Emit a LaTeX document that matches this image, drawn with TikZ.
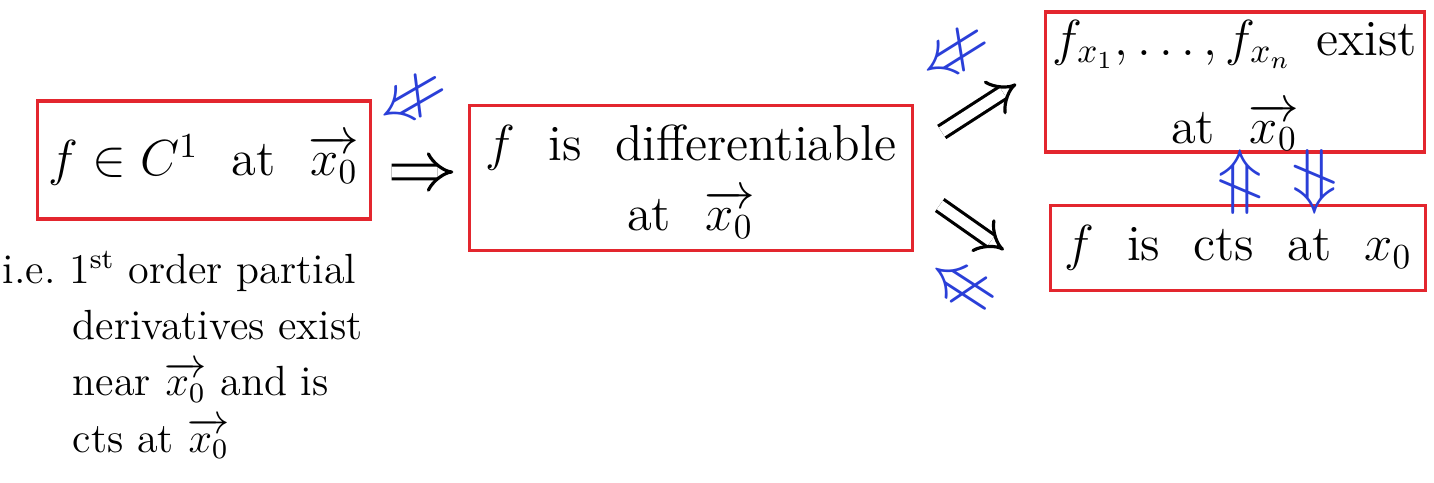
\documentclass[tikz,border=0pt]{standalone}
\usepackage{amsmath,amssymb}
\usepackage{tikz}
\usetikzlibrary{positioning,arrows.meta}
\definecolor{penred}{HTML}{E3262E}
\definecolor{penblue}{HTML}{2A3FD8}
\newcommand{\vxo}{\smash{\overrightarrow{x_0}}}
\tikzset{
  claim/.style={draw=penred,line width=0.9pt,font=\Large,align=center,inner sep=2pt},
  implies/.style={double,double distance=3pt,line width=0.9pt,-{Implies}},
  notimp/.style={text=penblue,font=\LARGE,inner sep=0pt,scale=1.2},
}
\begin{document}
\begin{tikzpicture}[x=0.01cm,y=-0.01cm]
        \useasboundingbox (0,0) rectangle (1434,483);
        % the four statements
        \node[claim,minimum width=3.32cm,minimum height=1.18cm] (cOne) at (204,160){$f\in C^1$ \ at \ $\vxo$};
        \node[claim,minimum width=4.42cm,minimum height=1.45cm] (diff) at (691,178){$f$ \ is \ differentiable\\[2pt] at \ $\vxo$};
        \node[claim,minimum width=3.7cm,minimum height=1.4cm] (part) at (1235,82){$f_{x_1},\ldots,f_{x_n}$ \,exist\\[7pt] at \ $\vxo$};
        \node[claim,minimum width=3.75cm,minimum height=0.85cm] (cts) at (1238,248){$f$ \ is \ cts \ at \ $x_0$};
        \node[font=\large,align=left,anchor=north west,inner sep=0pt] (note) at (2,250){i.e.\ 1\textsuperscript{st} order partial\\[2pt]
          \hspace*{0.7cm}derivatives exist\\[2pt]
          \hspace*{0.7cm}near $\vxo$ and is\\[2pt]
          \hspace*{0.7cm}cts at $\vxo$};
        % implications
        \draw[implies] ([xshift=0.2cm,yshift=-0.12cm]cOne.east)--([xshift=-0.15cm,yshift=0.06cm]diff.west);
        \draw[implies] ([xshift=0.28cm,yshift=0.46cm]diff.east)--([xshift=-0.28cm,yshift=-0.02cm]part.west);
        \draw[implies] ([xshift=0.26cm,yshift=-0.27cm]diff.east)--([xshift=-0.45cm,yshift=-0.02cm]cts.west);
        % converses that fail
        \node[notimp,rotate=30] (nbOne) at (414,104){$\nLeftarrow$};
        \node[notimp,rotate=32] (nbTwo) at (957,58){$\nLeftarrow$};
        \node[notimp,rotate=-33] (nbThree) at (960,290){$\nLeftarrow$};
        \node[notimp,rotate=90] (nbUp) at (1245,182){$\nRightarrow$};
        \node[notimp,rotate=-90] (nbDown) at (1310,182){$\nRightarrow$};
      \end{tikzpicture}
\end{document}
